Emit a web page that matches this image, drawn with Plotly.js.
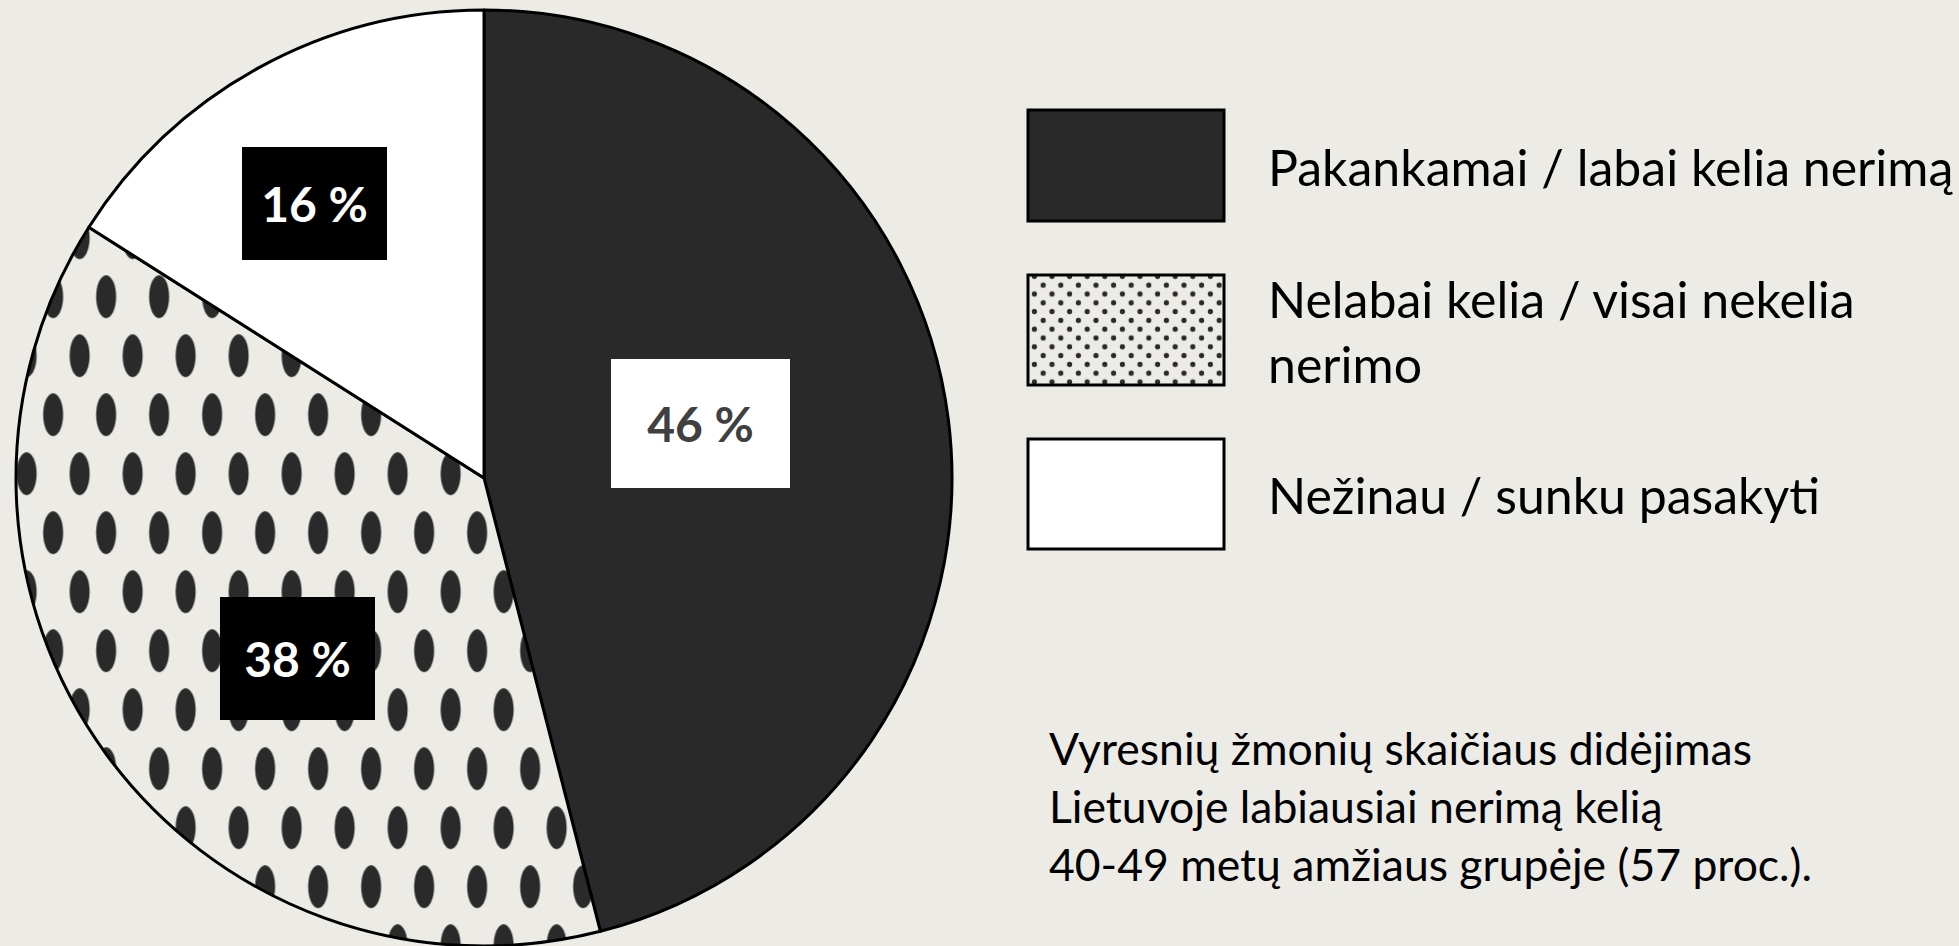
<!DOCTYPE html>
<html><head><meta charset="utf-8">
<script src="https://cdn.plot.ly/plotly-3.0.1.min.js"></script>
<style>html,body{margin:0;padding:0;background:#ecebe5;} #chart{width:1959px;height:946px;}</style>
</head><body><div id="chart"></div>
<script>
// ---- data ----
const categories = ['Pakankamai / labai kelia nerimą', 'Nelabai kelia / visai nekelia nerimo', 'Nežinau / sunku pasakyti'];
const values = [46, 38, 16];
const legendLabels = ['Pakankamai / labai kelia nerimą', 'Nelabai kelia / visai nekelia<br>nerimo', 'Nežinau / sunku pasakyti'];
const noteLines = ['Vyresnių žmonių skaičiaus didėjimas', 'Lietuvoje labiausiai nerimą kelią', '40-49 metų amžiaus grupėje (57 proc.).'];

// ---- styling / layout ----
const W = 1959, H = 946;
const BG = '#ecebe5', DARK = '#292929', DOT = '#2a2a2a';
const px = x => x / W, py = y => 1 - y / H;
const sliceColors = [DARK, BG, '#ffffff'];
const FONT = 'Lato, "Open Sans", sans-serif';

const trace = {
  type: 'pie', labels: categories, values: values, sort: false,
  direction: 'clockwise', rotation: 0, textinfo: 'none', hoverinfo: 'none', showlegend: false,
  marker: {
    colors: sliceColors, line: {color: '#000000', width: 3},
    pattern: {shape: ['', '.', ''], fgcolor: DOT, bgcolor: BG, size: 56, solidity: 0.18, fillmode: 'replace'}
  },
  domain: {x: [px(484 - 468), px(484 + 468)], y: [0, 936 / H]}
};

const labelBoxes = [
  {cx: 700, cy: 424, w: 179, h: 129, bg: '#ffffff', fc: '#404040'},
  {cx: 297, cy: 658, w: 155, h: 123, bg: '#000000', fc: '#ffffff'},
  {cx: 314, cy: 203, w: 145, h: 113, bg: '#000000', fc: '#ffffff'}
];
const annotations = labelBoxes.map((b, i) => ({
  xref: 'paper', yref: 'paper', x: px(b.cx), y: py(b.cy), xanchor: 'center', yanchor: 'middle',
  text: '<b>' + values[i] + ' %</b>', showarrow: false, width: b.w, height: b.h,
  bgcolor: b.bg, borderpad: 0, borderwidth: 0,
  font: {family: FONT, size: 48, color: b.fc}
}));

const swatches = [{y0: 110, y1: 221, fill: DARK}, {y0: 275, y1: 385, fill: 'rgba(0,0,0,0)'}, {y0: 439, y1: 549, fill: '#ffffff'}];
const shapes = swatches.map(s => ({
  type: 'rect', xref: 'paper', yref: 'paper', x0: px(1028), x1: px(1224), y0: py(s.y0), y1: py(s.y1),
  fillcolor: s.fill, line: {color: '#000000', width: 3}, layer: 'above'
}));
swatches.forEach((s, i) => {
  annotations.push({
    xref: 'paper', yref: 'paper', x: px(1266), y: py((s.y0 + s.y1) / 2 + 1), xanchor: 'left', yanchor: 'middle',
    align: 'left', text: legendLabels[i], showarrow: false,
    font: {family: FONT, size: 50, color: '#000000'}
  });
});
annotations.push({
  xref: 'paper', yref: 'paper', x: px(1047), y: py(805), xanchor: 'left', yanchor: 'middle',
  align: 'left', text: noteLines.join('<br>'), showarrow: false,
  font: {family: FONT, size: 44.5, color: '#000000'}
});

const dotSvg = '<svg xmlns="http://www.w3.org/2000/svg" width="196" height="110" viewBox="0 0 196 110">' +
  '<defs><pattern id="d" width="17.6" height="17.6" patternUnits="userSpaceOnUse" patternTransform="translate(2,-3)">' +
  '<circle cx="4.4" cy="4.4" r="2.6" fill="' + DOT + '"/><circle cx="13.2" cy="13.2" r="2.6" fill="' + DOT + '"/></pattern></defs>' +
  '<rect width="196" height="110" fill="' + BG + '"/><rect width="196" height="110" fill="url(#d)"/></svg>';

const layout = {
  width: W, height: H, margin: {l: 0, r: 0, t: 0, b: 0, pad: 0},
  paper_bgcolor: BG, plot_bgcolor: BG, showlegend: false,
  shapes: shapes, annotations: annotations,
  images: [{
    source: 'data:image/svg+xml;charset=utf-8,' + encodeURIComponent(dotSvg),
    xref: 'paper', yref: 'paper', x: px(1028), y: py(275), sizex: px(1224) - px(1028), sizey: 110 / H,
    xanchor: 'left', yanchor: 'top', sizing: 'stretch', layer: 'above'
  }]
};

Plotly.newPlot('chart', [trace], layout, {staticPlot: true, displayModeBar: false}).then(gd => {
  // restyle the dot pattern as staggered vertical ellipses, like the reference
  const NS = 'http://www.w3.org/2000/svg';
  gd.querySelectorAll('pattern').forEach(p => {
    const tw = 53, th = 118;
    p.setAttribute('width', tw); p.setAttribute('height', th);
    p.setAttribute('patternTransform', 'translate(13.4,90.2)');
    while (p.firstChild) p.removeChild(p.firstChild);
    const r = document.createElementNS(NS, 'rect');
    r.setAttribute('width', tw); r.setAttribute('height', th); r.setAttribute('fill', BG);
    p.appendChild(r);
    [[13.25, 29.5], [39.75, 88.5]].forEach(([cx, cy]) => {
      const e = document.createElementNS(NS, 'ellipse');
      e.setAttribute('cx', cx); e.setAttribute('cy', cy); e.setAttribute('rx', 10); e.setAttribute('ry', 21.5);
      e.setAttribute('fill', DOT);
      p.appendChild(e);
    });
  });
});
</script>
</body></html>
